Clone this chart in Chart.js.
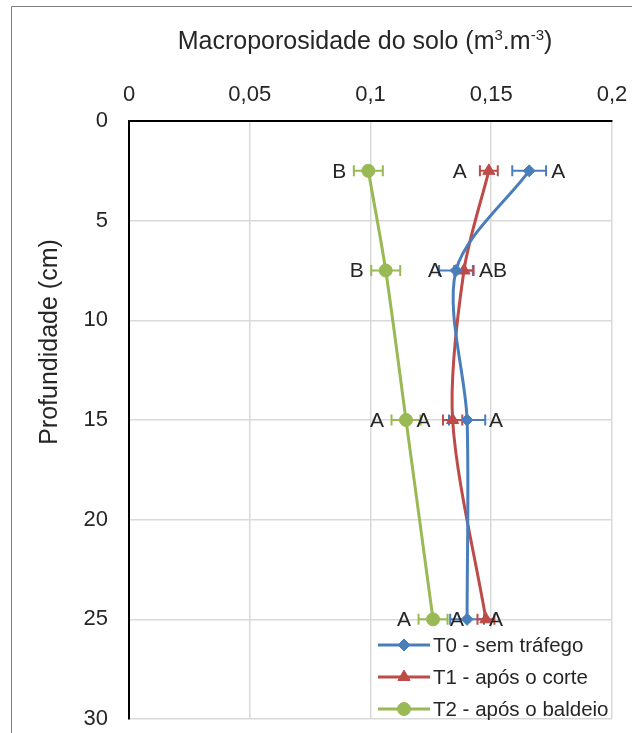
<!DOCTYPE html>
<html>
<head>
<meta charset="utf-8">
<script src="https://cdn.jsdelivr.net/npm/chart.js@4.4.1/dist/chart.umd.min.js"></script>
<style>
  html, body { margin: 0; padding: 0; background: #fff; }
  #wrap { width: 632px; height: 733px; position: relative; }
</style>
</head>
<body>
<div id="wrap"><canvas id="chart" width="632" height="733"></canvas></div>
<script>
// depth (cm) for each sampling layer
const depths = [2.5, 7.5, 15, 25];
const seriesNames = ['T0 - sem tráfego', 'T1 - após o corte', 'T2 - após o baldeio'];

// macroporosity (m3.m-3)
const t0Values = [0.1657, 0.1354, 0.140, 0.140];
const t1Values = [0.149, 0.1387, 0.134, 0.1478];
const t2Values = [0.0991, 0.1063, 0.1147, 0.1259];

// error bar half-widths
const t0Errors = [0.007, 0.007, 0.0075, 0.007];
const t1Errors = [0.0037, 0.004, 0.004, 0.0035];
const t2Errors = [0.006, 0.006, 0.006, 0.006];

// statistic letters and the side they sit on
const t0Letters = ['A', 'A', 'A', 'A'];
const t1Letters = ['A', 'AB', 'A', 'A'];
const t2Letters = ['B', 'B', 'A', 'A'];
const t0Sides = ['right', 'left', 'right', 'right'];
const t1Sides = ['left', 'right', 'left', 'left'];
const t2Sides = ['left', 'left', 'left', 'left'];

const xTickValues = [0, 0.05, 0.1, 0.15, 0.2];
const xTickLabels = ['0', '0,05', '0,1', '0,15', '0,2'];
const yTickValues = [0, 5, 10, 15, 20, 25, 30];

const xTitleParts = [['Macroporosidade do solo (m', false], ['3', true], ['.m', false], ['-3', true], [')', false]];
const yTitle = 'Profundidade (cm)';

const FONT = '"Liberation Sans", Arial, sans-serif';
const TEXT = '#262626';
const colors = ['#4a7ebb', '#be4b48', '#98b954'];
const styles = ['rectRot', 'triangle', 'circle'];
const radii = [6, 7, 6.5];

// gap between point and its letter; the crowded 7.5 cm row sits closer
const LABEL_GAP = 22;
const tightGap = { '0-1': 14, '1-1': 15 };

function points(vals) {
  return vals.map((v, i) => ({ x: v, y: depths[i] }));
}

const errors = [t0Errors, t1Errors, t2Errors];
const letters = [t0Letters, t1Letters, t2Letters];
const sides = [t0Sides, t1Sides, t2Sides];

const datasets = [t0Values, t1Values, t2Values].map((vals, i) => ({
  label: seriesNames[i],
  data: points(vals),
  showLine: true,
  tension: 0.3,
  borderColor: colors[i],
  backgroundColor: colors[i],
  borderWidth: 3,
  pointStyle: styles[i],
  pointRadius: radii[i],
  pointBorderWidth: 1,
  pointBorderColor: colors[i],
  pointBackgroundColor: colors[i]
}));

const frame = {
  id: 'frame',
  beforeDraw(chart) {
    const ctx = chart.ctx;
    ctx.save();
    ctx.strokeStyle = '#7f7f7f';
    ctx.lineWidth = 1;
    ctx.beginPath();
    ctx.moveTo(11.5, 733);
    ctx.lineTo(11.5, 6.5);
    ctx.lineTo(632, 6.5);
    ctx.stroke();
    ctx.restore();
  }
};

const errorBars = {
  id: 'errorBars',
  beforeDatasetsDraw(chart) {
    const ctx = chart.ctx;
    const xs = chart.scales.x;
    ctx.save();
    chart.data.datasets.forEach((ds, i) => {
      const meta = chart.getDatasetMeta(i);
      ctx.strokeStyle = colors[i];
      ctx.lineWidth = 2;
      meta.data.forEach((pt, j) => {
        const v = ds.data[j].x;
        const x1 = xs.getPixelForValue(v - errors[i][j]);
        const x2 = xs.getPixelForValue(v + errors[i][j]);
        const y = pt.y;
        ctx.beginPath();
        ctx.moveTo(x1, y); ctx.lineTo(x2, y);
        ctx.moveTo(x1, y - 5.5); ctx.lineTo(x1, y + 5.5);
        ctx.moveTo(x2, y - 5.5); ctx.lineTo(x2, y + 5.5);
        ctx.stroke();
      });
    });
    ctx.restore();
  }
};

const labelsAndTitles = {
  id: 'labelsAndTitles',
  afterDatasetsDraw(chart) {
    const ctx = chart.ctx;
    ctx.save();
    ctx.fillStyle = TEXT;
    ctx.font = '21px ' + FONT;
    ctx.textBaseline = 'middle';
    chart.data.datasets.forEach((ds, i) => {
      chart.getDatasetMeta(i).data.forEach((pt, j) => {
        const gap = tightGap[i + '-' + j] || LABEL_GAP;
        if (sides[i][j] === 'left') {
          ctx.textAlign = 'right';
          ctx.fillText(letters[i][j], pt.x - gap, pt.y + 1);
        } else {
          ctx.textAlign = 'left';
          ctx.fillText(letters[i][j], pt.x + gap, pt.y + 1);
        }
      });
    });

    // x axis title with superscripts
    const big = '25px ' + FONT, small = '15px ' + FONT;
    let w = 0;
    xTitleParts.forEach(([t, sup]) => { ctx.font = sup ? small : big; w += ctx.measureText(t).width; });
    let x = 365 - w / 2;
    ctx.textAlign = 'left';
    ctx.textBaseline = 'alphabetic';
    xTitleParts.forEach(([t, sup]) => {
      ctx.font = sup ? small : big;
      ctx.fillText(t, x, sup ? 40 : 49);
      x += ctx.measureText(t).width;
    });

    // y axis title
    ctx.font = big;
    ctx.textAlign = 'center';
    ctx.textBaseline = 'middle';
    ctx.translate(50, 342);
    ctx.rotate(-Math.PI / 2);
    ctx.fillText(yTitle, 0, 0);
    ctx.restore();
  }
};

const boxLegend = {
  id: 'boxLegend',
  afterDraw(chart) {
    const ctx = chart.ctx;
    ctx.save();
    ctx.fillStyle = '#fff';
    ctx.fillRect(374, 629, 236, 89);
    ctx.font = '20.5px ' + FONT;
    ctx.textBaseline = 'middle';
    ctx.textAlign = 'left';
    chart.data.datasets.forEach((ds, i) => {
      const y = 645 + i * 32;
      ctx.strokeStyle = colors[i];
      ctx.fillStyle = colors[i];
      ctx.lineWidth = 3;
      ctx.beginPath();
      ctx.moveTo(378, y); ctx.lineTo(430, y);
      ctx.stroke();
      ctx.lineWidth = 1;
      Chart.helpers.drawPoint(ctx, { pointStyle: styles[i], radius: radii[i], rotation: 0, borderWidth: 1 }, 404, y);
      ctx.fillStyle = TEXT;
      ctx.fillText(ds.label, 433, y + 1);
    });
    ctx.restore();
  }
};

new Chart(document.getElementById('chart'), {
  type: 'scatter',
  data: { datasets },
  options: {
    responsive: false,
    animation: false,
    layout: { padding: { left: 0, top: 0, right: 20, bottom: 14 } },
    plugins: { legend: { display: false }, tooltip: { enabled: false } },
    scales: {
      x: {
        type: 'linear',
        position: 'top',
        min: 0,
        max: 0.2,
        afterBuildTicks: s => { s.ticks = xTickValues.map(v => ({ value: v })); },
        afterFit: s => { s.height = 121; s.paddingLeft = 0; s.paddingRight = 0; },
        grid: { color: '#d9d9d9', lineWidth: 1.5, drawTicks: false },
        border: { color: '#000', width: 2 },
        ticks: {
          padding: 13,
          color: TEXT,
          font: { family: FONT, size: 22 },
          callback: (v, i) => xTickLabels[i]
        }
      },
      y: {
        type: 'linear',
        reverse: true,
        min: 0,
        max: 30,
        afterBuildTicks: s => { s.ticks = yTickValues.map(v => ({ value: v })); },
        afterFit: s => { s.width = 129; s.paddingTop = 0; s.paddingBottom = 0; },
        grid: { color: '#d9d9d9', lineWidth: 1.5, drawTicks: false },
        border: { color: '#000', width: 2 },
        ticks: {
          padding: 21,
          color: TEXT,
          font: { family: FONT, size: 22 },
          callback: (v, i) => String(yTickValues[i])
        }
      }
    }
  },
  plugins: [frame, errorBars, labelsAndTitles, boxLegend]
});
</script>
</body>
</html>
